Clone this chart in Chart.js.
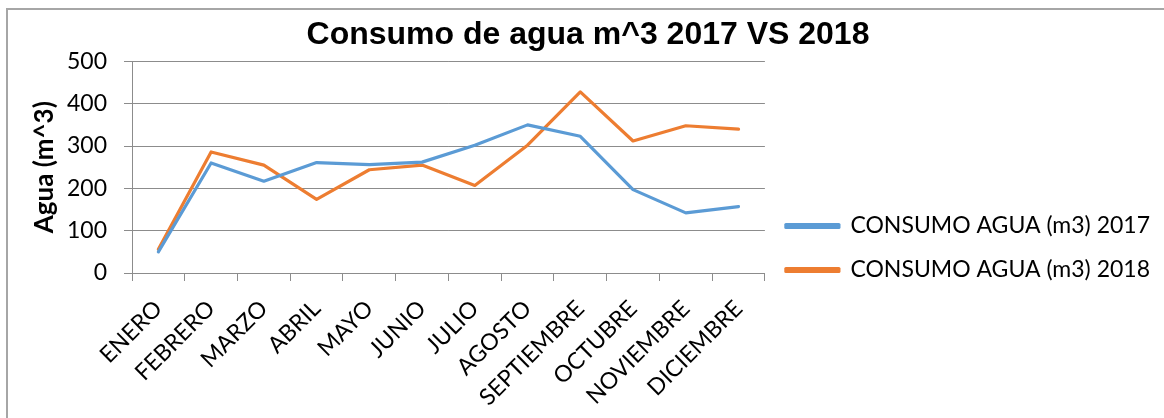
<!DOCTYPE html>
<html>
<head>
<meta charset="utf-8">
<script src="https://cdn.jsdelivr.net/npm/chart.js@4/dist/chart.umd.min.js"></script>
<style>
  html, body { margin: 0; padding: 0; background: #ffffff; }
  body { width: 1164px; height: 418px; position: relative; overflow: hidden; }
  #frame { position: absolute; left: 6px; top: 8px; width: 1200px; height: 500px;
           border-left: 2px solid #a6a6a6; border-top: 2px solid #a6a6a6; }
  #wrap { position: absolute; left: 0; top: 0; width: 1164px; height: 418px; }
</style>
</head>
<body>
<div id="frame"></div>
<div id="wrap"><canvas id="c" width="1164" height="418"></canvas></div>
<script>
const categories = ["ENERO","FEBRERO","MARZO","ABRIL","MAYO","JUNIO","JULIO","AGOSTO","SEPTIEMBRE","OCTUBRE","NOVIEMBRE","DICIEMBRE"];
const consumo2017 = [50, 260, 217, 261, 256, 262, 302, 350, 323, 197, 142, 157];
const consumo2018 = [56, 286, 255, 174, 244, 255, 207, 302, 428, 312, 348, 340];
const seriesNames = ["CONSUMO AGUA (m3) 2017", "CONSUMO AGUA (m3) 2018"];
const chartTitle = "Consumo de agua m^3 2017 VS 2018";
const yTitle = "Agua (m^3)";
const yTicks = [0, 100, 200, 300, 400, 500];

const gridColor = '#8c8c8c';
const txtFont = 'Lato, Carlito, Calibri, sans-serif';

new Chart(document.getElementById('c'), {
  type: 'line',
  data: {
    labels: categories,
    datasets: [
      { label: seriesNames[0], data: consumo2017, borderColor: '#5B9BD5', backgroundColor: '#5B9BD5',
        borderWidth: 3.2, pointRadius: 0, tension: 0, borderCapStyle: 'round', borderJoinStyle: 'round' },
      { label: seriesNames[1], data: consumo2018, borderColor: '#ED7D31', backgroundColor: '#ED7D31',
        borderWidth: 3.2, pointRadius: 0, tension: 0, borderCapStyle: 'round', borderJoinStyle: 'round' }
    ]
  },
  options: {
    responsive: false,
    animation: false,
    layout: { padding: { left: 16, right: 4, top: 0, bottom: 0 } },
    plugins: {
      title: {
        display: true, text: chartTitle, color: '#000',
        font: { family: '"Liberation Sans", Arial, sans-serif', size: 32, weight: 'bold' },
        padding: { top: 16, bottom: 7 }
      },
      legend: {
        position: 'right', align: 'center', maxWidth: 420,
        title: { display: true, text: ' ', font: { size: 10 }, padding: { top: 66, bottom: 0 } },
        labels: {
          color: '#000', font: { family: txtFont, size: 23 },
          boxWidth: 53, boxHeight: 3, padding: 21
        }
      },
      tooltip: { enabled: false }
    },
    scales: {
      x: {
        offset: true,
        afterFit: s => { s.height = 145; },
        grid: { display: true, drawOnChartArea: false, drawTicks: true, tickLength: 8, color: gridColor, offset: true },
        border: { display: true, color: gridColor, width: 1 },
        ticks: { color: '#000', font: { family: txtFont, size: 23 }, minRotation: 45, maxRotation: 45, padding: 14, autoSkip: false }
      },
      y: {
        min: 0, max: 500,
        afterBuildTicks: s => { s.ticks = yTicks.map(v => ({ value: v })); },
        afterFit: s => { s.width = 116; },
        grid: { color: gridColor, tickLength: 8, drawTicks: true },
        border: { display: true, color: gridColor, width: 1 },
        ticks: { color: '#000', font: { family: txtFont, size: 23 }, padding: 17 },
        title: { display: true, text: yTitle, color: '#000', font: { family: txtFont, size: 26, weight: 'bold' }, padding: { top: 13, bottom: 0 } }
      }
    }
  }
});
</script>
</body>
</html>
